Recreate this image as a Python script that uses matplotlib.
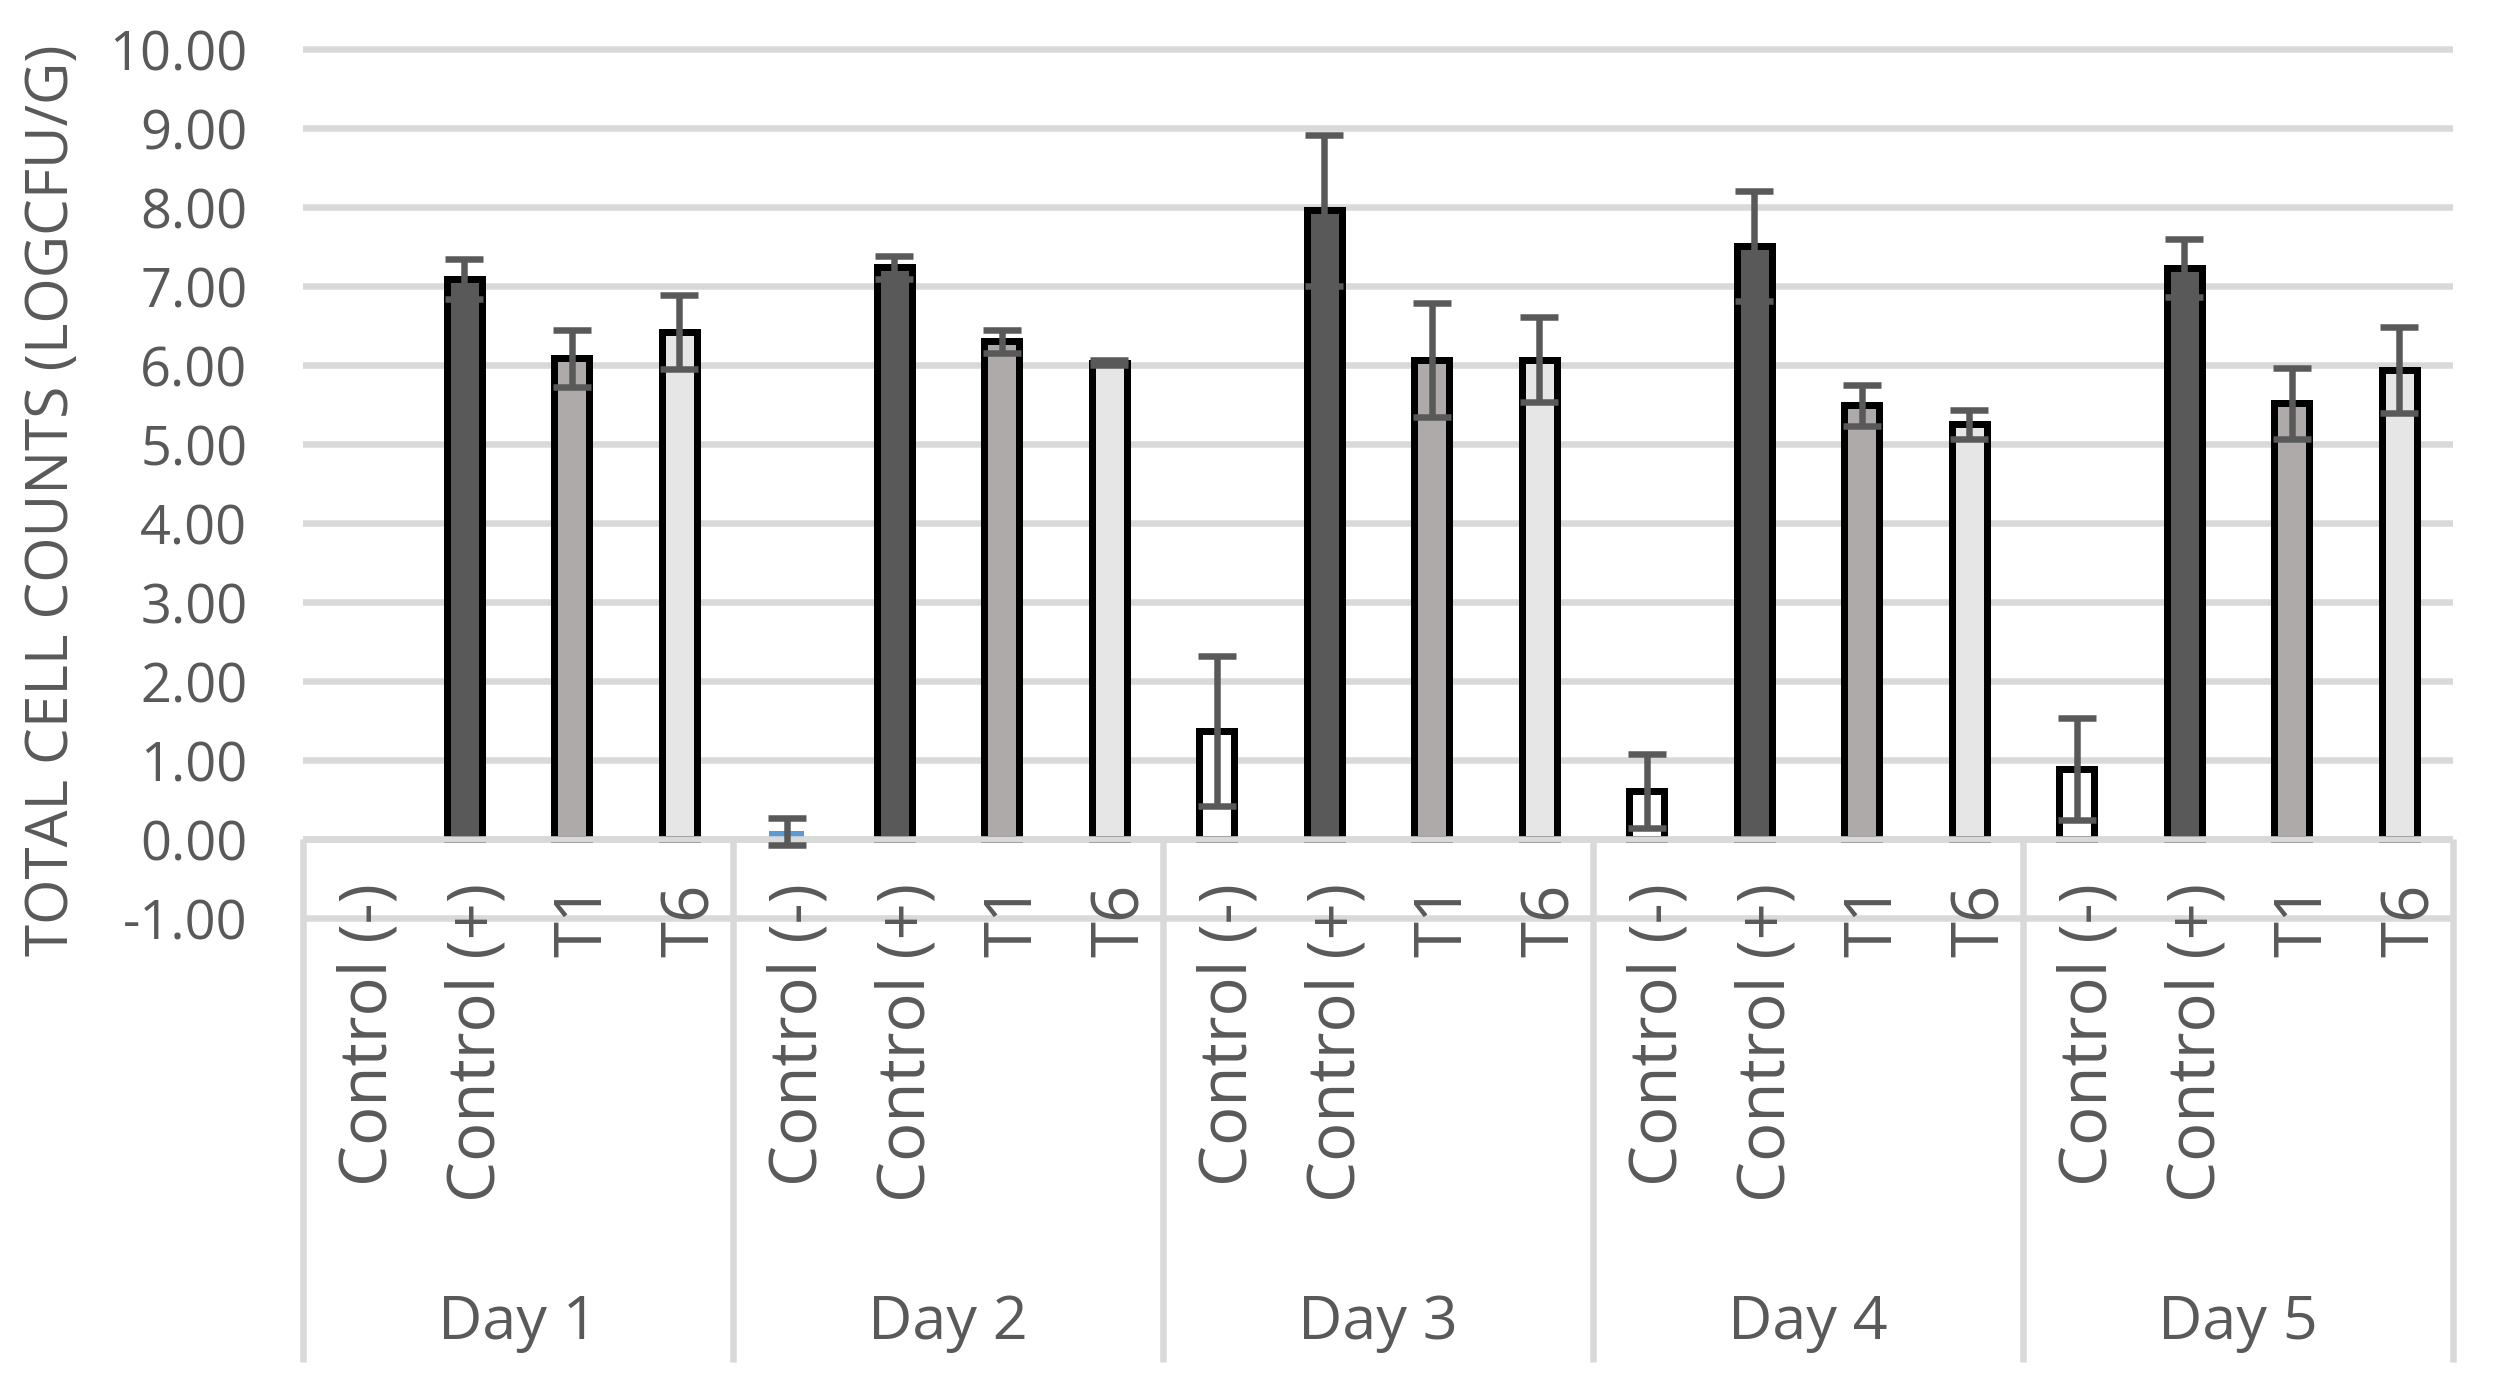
import numpy as np
import matplotlib
matplotlib.use("Agg")
import matplotlib.pyplot as plt

# ---------------- data ----------------
days = ["Day 1", "Day 2", "Day 3", "Day 4", "Day 5"]
treatments = ["Control (-)", "Control (+)", "T1", "T6"]

ctrl_neg = [np.nan, 0.10, 1.37, 0.61, 0.89]
ctrl_neg_err = [np.nan, 0.17, 0.95, 0.47, 0.645]
ctrl_pos = [7.09, 7.24, 7.96, 7.51, 7.23]
ctrl_pos_err = [0.25, 0.145, 0.96, 0.70, 0.37]
t1 = [6.09, 6.30, 6.07, 5.49, 5.52]
t1_err = [0.36, 0.15, 0.72, 0.26, 0.45]
t6 = [6.42, 6.03, 6.07, 5.25, 5.94]
t6_err = [0.47, 0.03, 0.54, 0.18, 0.54]

yticks = [-1, 0, 1, 2, 3, 4, 5, 6, 7, 8, 9, 10]
ytick_labels = ["-1.00", "0.00", "1.00", "2.00", "3.00", "4.00", "5.00",
                "6.00", "7.00", "8.00", "9.00", "10.00"]
ylabel = "TOTAL CELL COUNTS (LOGCFU/G)"

# ---------------- style ----------------
plt.rcParams["font.family"] = ["Open Sans", "DejaVu Sans"]
TEXT = "#595959"
GRID = "#D9D9D9"
series = [
    (ctrl_neg, ctrl_neg_err, "white"),
    (ctrl_pos, ctrl_pos_err, "#595959"),
    (t1, t1_err, "#AEAAAA"),
    (t6, t6_err, "#E6E6E6"),
]
# point override (Day 2 negative control drawn in Excel's default blue)
special_fill = {(0, 1): ("#5B9BD5", "none")}

px = 72.0 / 100.0  # points per pixel at dpi 100
bar_w = 0.325
edge_lw = 7 * px
line_lw = 6.5 * px

fig = plt.figure(figsize=(25.03, 13.93), dpi=100)
ax = fig.add_axes([303 / 2503, 1 - 925.9 / 1393, 2150 / 2503, (925.9 - 41.4) / 1393])

ax.set_xlim(-0.5, 19.5)
ax.set_ylim(-1.1, 10.1)

# gridlines
for y in yticks:
    ax.axhline(y, color=GRID, lw=line_lw, zorder=0.5)
# category axis line at zero (on top of bar bottoms)
ax.axhline(0, color=GRID, lw=line_lw, zorder=2.5)

n_t = len(treatments)
for s_idx, (vals, errs, fill) in enumerate(series):
    for d_idx in range(len(days)):
        v = vals[d_idx]
        if np.isnan(v):
            continue
        x = d_idx * n_t + s_idx
        fc, ec = special_fill.get((s_idx, d_idx), (fill, "black"))
        ax.bar(x, v, width=bar_w, color=fc, edgecolor=ec,
               linewidth=(0 if ec == "none" else edge_lw), zorder=2)
        ax.errorbar(x, v, yerr=errs[d_idx], fmt="none", ecolor=TEXT,
                    elinewidth=line_lw, capsize=14, capthick=line_lw, zorder=3)

# y axis
ax.set_yticks(yticks)
ax.set_yticklabels(ytick_labels, color=TEXT, fontsize=39)
ax.tick_params(axis="y", length=0, pad=40)
ax.set_xticks([])
for sp in ax.spines.values():
    sp.set_visible(False)

fig.text(53 / 2503, 1 - ((30 + 597) / 2 * 1.596) / 1393, ylabel, rotation=90,
         ha="center", va="center", color=TEXT, fontsize=42)

# category labels
for d_idx in range(len(days)):
    for s_idx, lab in enumerate(treatments):
        x = d_idx * n_t + s_idx
        ax.text(x + 0.12, -0.56, lab, rotation=90, ha="center", va="top",
                color=TEXT, fontsize=47, clip_on=False)
    ax.text(d_idx * n_t + 1.5, -6.13, days[d_idx], ha="center", va="center",
            color=TEXT, fontsize=44, clip_on=False)

# group separators
for b in range(len(days) + 1):
    xb = b * n_t - 0.5
    ax.plot([xb, xb], [0, -6.62], color=GRID, lw=line_lw, clip_on=False,
            solid_capstyle="butt", zorder=1)

fig.savefig("out.png", dpi=100)
